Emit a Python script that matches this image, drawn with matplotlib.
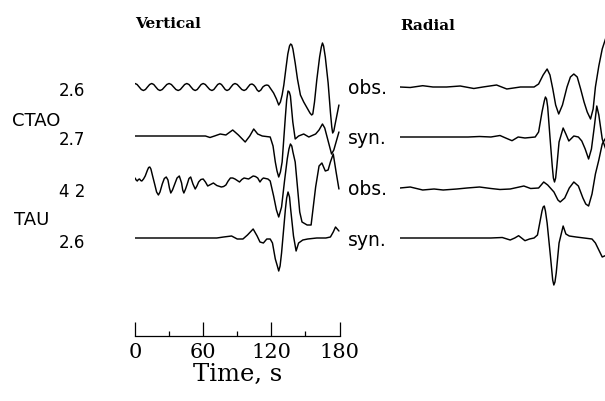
import numpy as np
import matplotlib.pyplot as plt

W, H = 605, 402

# Seismograms: time [s] and trace amplitude (plot units, up positive)
# Vertical component
t_v1 = [0, 1.85, 3.7, 5.55, 7.4, 9.2, 11, 12.9, 14.7, 16.5, 18.3, 20.2, 22, 24, 26,
        28, 30, 32, 34, 36, 38, 39.9, 41.8, 43.7, 45.6, 47.5, 49.3, 51.2, 53, 54.8,
        56.5, 58.2, 60, 61.9, 63.8, 65.8, 67.7, 69.4, 71.1, 72.8, 74.5, 76.1, 77.8,
        79.4, 81, 82.8, 84.5, 86.3, 88, 90, 92, 94, 96, 97.8, 99.5, 101.3, 103,
        104.5, 106, 107.5, 109, 110.8, 112.5, 114.3, 116, 117.5, 119, 120.5, 122,
        124.5, 126.5, 128, 129.5, 131, 133, 134.5, 136, 137, 138, 139, 141, 143,
        145.6, 148.5, 151.5, 154, 155.5, 156.5, 158, 160, 162.5, 164, 165, 166,
        167.5, 170, 172, 173.2, 174, 175, 176, 179.5]
a_v1 = [3.5, 2.5, 0, -2.5, -3.5, -2.5, 0, 2.5, 3.5, 2.5, 0, -2.5, -3.5, -2.5, 0,
        2.5, 3.5, 2.5, 0, -2.5, -3.5, -2.5, 0, 2.5, 3.5, 2.5, 0, -2.5, -3.5, -2.5,
        0, 2.5, 3.5, 2.5, 0, -2.5, -3.5, -2.5, 0, 2.5, 3.5, 2.5, 0,
        -2.5, -3.5, -2.5, 0, 2.5, 3.5, 2.5, 0, -2.5, -3.5, -2.5, 0, 2.5, 3,
        2, 0, -3, -4.5, -3, 0, 1.5, 2, 1.5, -1, -3.5, -6,
        -12, -18, -15, -8, 2, 20, 33, 41, 43, 42, 38, 24, 8,
        -8, -15, -21, -26, -28, -27, -15, 7, 30, 40, 44, 41,
        30, 4, -25, -40, -46, -44, -38, -18]

t_v2 = [0, 62, 66, 70, 75, 80, 86, 91, 97, 101, 104.5, 108, 112, 119, 121.5, 123.5,
        125, 126.5, 128, 129.5, 132.4, 133.5, 134.7, 135.8, 136.8, 138.9, 141, 144,
        148.5, 153, 159, 162, 165, 167, 170, 173, 175, 179.5]
a_v2 = [0, 0, -1.5, 0, 2, 1, 6, 1, -6, 0, 7, 2, 0, -1, -10, -26,
        -35, -41, -36, -26, 20, 36, 45, 44, 40, 14, -3, 0,
        2, -1, 2, 6, 12, 8, -5, -18, -14, 4]

t_v3 = [0, 1, 2, 3, 4, 5, 6, 7.5, 9, 11, 12, 13, 14, 15.5, 17.5, 19, 20.6, 22, 24,
        25.8, 27.5, 29, 30.3, 31.5, 33, 35, 37, 39, 41, 42, 43, 44.5, 46, 47.5, 49,
        51, 53, 54.5, 56, 58, 60, 62, 64, 66.5, 69, 72, 76, 78, 80, 82, 84, 86, 88,
        90, 92, 94, 96, 98, 100, 102, 104, 106, 108, 110, 111.5, 113, 115, 117, 119,
        122, 124.5, 126.5, 129, 131.5, 134, 135.5, 136.8, 138, 139, 141, 143, 145,
        147, 151.5, 155, 157, 159, 162, 164.5, 167.5, 170, 172, 174.5, 177, 179.5]
a_v3 = [4, 2, 1, 2.5, 3, 1.5, 1, 3, 6, 12, 14.5, 15, 13, 6, -3, -10, -13, -10, -2,
        3.5, 5, 2, -6, -11, -8, -2, 4, 6, -1, -8, -11, -7, -2, 3.5, 5,
        -2, -7, -4, 0, 2.5, 3, 0, -4, -2.5, -1, -3.5, -5, -4.5, -3, 1, 4, 4, 3,
        1.5, 0, 2.5, 4, 3.5, 3, 4.5, 6, 5.5, 4, 0, 2.5, 4, 3.5, 3, 1,
        -14, -28, -35, -25, 0, 23, 33, 38, 36, 30, 20, -5, -30,
        -40, -43, -43, -24, -5, 16, 19, 11, 12, 20, 28, 10, -7]

t_v4 = [0, 72, 78, 85, 90, 95, 99, 104, 107.5, 110, 113, 116, 119, 121, 123.5, 125.3,
        126.5, 127.7, 129, 132.4, 133.5, 134.7, 136, 137, 139.5, 141.8, 144, 147.7,
        152, 160, 168, 172, 174.5, 176.5, 179.5]
a_v4 = [0, 0, 1, 2, -1, -1, 3, 9, 2, -4, -5, -1, -1, -5, -21, -28,
        -33, -28, -15, 29, 40, 46, 41, 29, 2, -13, -5, -2,
        -1, 0, 0, 1, 6, 11, 7]

# Radial component
t_r1 = [0, 9, 20, 29, 41, 53, 65, 73, 85, 94, 106, 118, 122, 126, 129.5, 132, 134.5,
        137, 139.7, 143, 147, 150, 153, 156, 159, 162, 164.8, 167.7, 170, 172, 175,
        178, 182]
a_r1 = [0, -0.5, 1.3, 0, 0, 1, -1.5, 0, 2, -2, 0, 0, 3, 12, 18, 12, -2,
        -18, -27, -18, 0, 10, 13, 10, -2, -15, -25, -32, -22, 0, 21,
        38, 52]

t_r2 = [0, 60, 70, 80, 88, 93, 98.6, 104, 110, 119, 122, 125, 127, 128, 129, 130, 132,
        134, 135, 136, 137, 138, 140, 143.6, 146, 148.6, 153, 157, 160, 163, 166,
        168.5, 171, 173.2, 175, 178, 182]
a_r2 = [0, 0, 0.5, 0, 1.5, -1, -3.7, 0, -1, 0, 5, 25, 36, 40, 38, 30, 0,
        -29, -41, -45, -41, -30, -5, 9, 3, -4, 1, 0, -4, -12, -22,
        -12, 10, 31, 22, -2, -15]

t_r3 = [0, 9, 20, 30, 38, 50, 59, 70, 80, 88, 97, 103, 109, 115, 122, 126.5, 130,
        135.5, 139, 141, 145, 149, 153, 157, 161, 163.5, 166, 169, 172, 175, 178, 182]
a_r3 = [0, 1, -2, -1, -2, -1, 0, 1, -0.5, -1.5, -1, 0.5, 2, -0.5, 0, 6, 3,
        -4, -12, -14, -10, 0, 6, 2, -10, -16, -18, -6, 14, 28, 44, 52]

t_r4 = [0, 60, 80, 90, 97, 101, 104.4, 107, 110, 114, 118, 121, 123, 125, 126, 127,
        128, 129.5, 132.4, 134.4, 135.4, 136.4, 137.5, 140, 143.6, 146, 149, 155, 162,
        169, 172, 175, 178, 182]
a_r4 = [0, 0, 0, 0.5, -2, 0, 2.3, 0, -2.7, -1, 0, 3, 15, 27, 31, 32,
        27, 15, -18, -42, -47, -44, -35, -5, 12, 4, 2, 1, 0,
        -1, -5, -12, -19, -17]

left_labels = ["2.6", "2.7", "4 2", "2.6"]
stations = ["CTAO", "TAU"]
kinds = ["obs.", "syn.", "obs.", "syn."]

fig = plt.figure(figsize=(W / 100, H / 100), dpi=100)


def fx(x):
    return x / W


def fy(y):
    return 1 - y / H


px_per_s = 204.5 / 180

ax_v = fig.add_axes([fx(135), 0, 204.5 / W, 1])
ax_r = fig.add_axes([fx(400), 0, 205 / W, 1])
ax_v.set_xlim(0, 180)
ax_r.set_xlim(0, 205 / px_per_s)
for ax in (ax_v, ax_r):
    ax.set_ylim(-H, 0)
    ax.axis("off")

base_v = [88, 137, 183, 239]
base_r = [88, 138, 189, 239]
for t, a, b in zip([t_v1, t_v2, t_v3, t_v4], [a_v1, a_v2, a_v3, a_v4], base_v):
    ax_v.plot(t, np.array(a) - b, color="k", lw=1.05,
              solid_joinstyle="round", solid_capstyle="round")
for t, a, b in zip([t_r1, t_r2, t_r3, t_r4], [a_r1, a_r2, a_r3, a_r4], base_r):
    ax_r.plot(t, np.array(a) - b, color="k", lw=1.05,
              solid_joinstyle="round", solid_capstyle="round")

# panel titles
fig.text(fx(135), fy(24), "Vertical", family="DejaVu Serif", weight="bold",
         fontsize=11, va="center", ha="left")
fig.text(fx(400), fy(26), "Radial", family="DejaVu Serif", weight="bold",
         fontsize=11, va="center", ha="left")

# distance labels, station names and obs/syn tags
for lab, y in zip(left_labels, [91, 140, 192, 243]):
    fig.text(fx(85), fy(y), lab, fontsize=12, ha="right", va="center")
for st, y, x in zip(stations, [121, 220], [12, 14]):
    fig.text(fx(x), fy(y), st, fontsize=13, ha="left", va="center")
for k, y in zip(kinds, [88, 139, 190, 241]):
    fig.text(fx(348), fy(y), k, fontsize=13.5, ha="left", va="center")

# time scale bar
ax_t = fig.add_axes([fx(135), fy(337), 204.5 / W, 20 / H])
ax_t.set_xlim(0, 180)
ax_t.patch.set_visible(False)
for s in ("left", "right", "top"):
    ax_t.spines[s].set_visible(False)
ax_t.spines["bottom"].set_linewidth(0.9)
ax_t.set_yticks([])
ax_t.set_xticks([0, 60, 120, 180])
ax_t.set_xticks([30, 90, 150], minor=True)
ax_t.tick_params(axis="x", which="major", direction="in", length=10, width=0.9, pad=4)
ax_t.tick_params(axis="x", which="minor", direction="in", length=3.6, width=0.9)
for lbl in ax_t.get_xticklabels():
    lbl.set_family("DejaVu Serif")
    lbl.set_fontsize(15)
ax_t.set_xlabel("Time, s", family="DejaVu Serif", fontsize=17.5, labelpad=1)

fig.savefig("out.png", dpi=100)
